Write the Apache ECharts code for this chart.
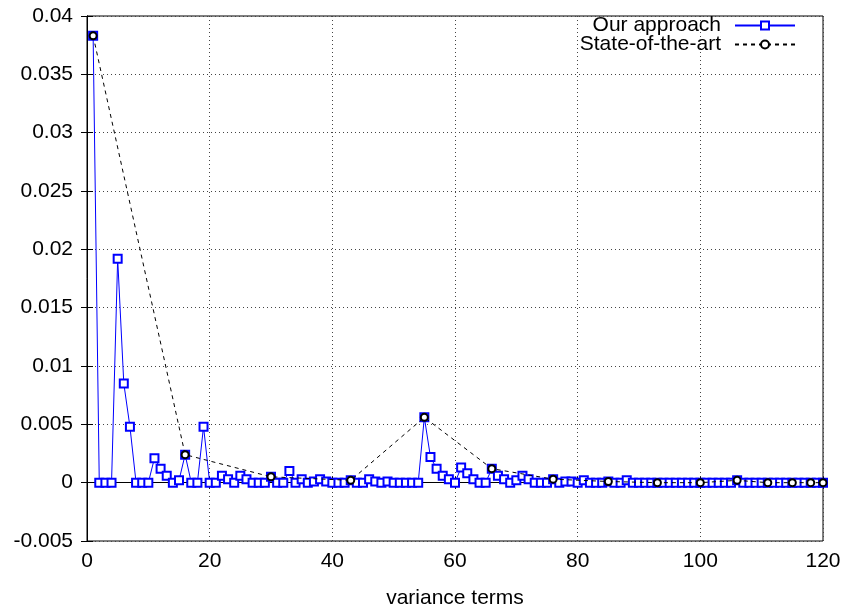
<!DOCTYPE html>
<html>
<head>
<meta charset="utf-8">
<script src="https://cdn.jsdelivr.net/npm/echarts@6/dist/echarts.min.js"></script>
<style>
html,body{margin:0;padding:0;background:#fff;}
#c{width:848px;height:613px;}
</style>
</head>
<body>
<div id="c"></div>
<script>
// Our approach: value for variance term 1..120
var ourValues = [
  0.0383, 0, 0, 0, 0.0192, 0.0085, 0.0048, 0, 0, 0,
  0.0021, 0.0012, 0.0006, 0, 0.0002, 0.0024, 0, 0, 0.0048, 0,
  0, 0.0006, 0.0003, 0, 0.0006, 0.0003, 0, 0, 0, 0.0005,
  0, 0, 0.0010, 0, 0.0003, 0, 0.0001, 0.0003, 0.0001, 0,
  0, 0, 0.0002, 0, 0, 0.0003, 0.0001, 0, 0.0001, 0,
  0, 0, 0, 0, 0.0056, 0.0022, 0.0012, 0.0006, 0.0003, 0,
  0.0013, 0.0008, 0.0003, 0, 0, 0.0012, 0.0006, 0.0003, 0, 0.0002,
  0.0006, 0.0003, 0, 0, 0, 0.0003, 0, 0.0001, 0.0001, 0,
  0.0002, 0, 0, 0, 0.0001, 0, 0, 0.0002, 0, 0,
  0, 0, 0, 0, 0, 0, 0, 0, 0, 0,
  0, 0, 0, 0, 0, 0.0002, 0, 0, 0, 0,
  0, 0, 0, 0, 0, 0, 0, 0, 0, 0
];
// State-of-the-art: sparse terms
var sotaTerms  = [1, 16, 30, 43, 55, 66, 76, 85, 93, 100, 106, 111, 115, 118, 120];
var sotaValues = [0.0383, 0.0024, 0.0005, 0.0002, 0.0056, 0.0012, 0.0003, 0.0001, 0, 0, 0.0002, 0, 0, 0, 0];
var xTicks = [0, 20, 40, 60, 80, 100, 120];
var yTicks = [-0.005, 0, 0.005, 0.01, 0.015, 0.02, 0.025, 0.03, 0.035, 0.04];

var ourData = ourValues.map(function (v, i) { return [i + 1, v]; });
var sotaData = sotaTerms.map(function (t, i) { return [t, sotaValues[i]]; });

var FONT = 'Liberation Sans, Arial, sans-serif';
var fmtY = function (v) { return String(parseFloat(v.toFixed(3))); };

var chart = echarts.init(document.getElementById('c'), null, {renderer: 'canvas'});
chart.setOption({
  animation: false,
  backgroundColor: '#fff',
  grid: {left: 87, right: 25, top: 16, bottom: 72, containLabel: false, outerBoundsMode: 'none',
         show: true, borderColor: '#000', borderWidth: 1},
  legend: [{
    data: ['Our approach'], right: 47, top: 10, orient: 'vertical', align: 'right',
    itemWidth: 60, itemHeight: 10, itemGap: 12,
    textStyle: {fontFamily: FONT, fontSize: 21, color: '#000', padding: [0, 9, 0, 0]}
  }, {
    data: ['State-of-the-art'], right: 47, top: 29, orient: 'vertical', align: 'right',
    itemWidth: 60, itemHeight: 10, itemGap: 12,
    textStyle: {fontFamily: FONT, fontSize: 21, color: '#000', padding: [0, 9, 0, 0]}
  }],
  xAxis: [{
    type: 'value', min: xTicks[0], max: xTicks[xTicks.length - 1], interval: 20,
    name: 'variance terms', nameLocation: 'middle', nameGap: 47,
    nameTextStyle: {fontFamily: FONT, fontSize: 21, color: '#000'},
    axisLine: {show: true, lineStyle: {color: '#000', width: 1}},
    axisTick: {show: true, inside: true, length: 6, lineStyle: {color: '#000'}},
    axisLabel: {fontFamily: FONT, fontSize: 21, color: '#000', margin: 10},
    splitLine: {show: true, lineStyle: {color: '#444', type: [1, 3], width: 1}}
  }, {
    type: 'value', position: 'top', min: 0, max: 120, interval: 20,
    axisLine: {show: true, lineStyle: {color: '#000'}},
    axisTick: {show: true, inside: true, length: 6, lineStyle: {color: '#000'}},
    axisLabel: {show: false}, splitLine: {show: false}
  }],
  yAxis: [{
    type: 'value', min: yTicks[0], max: yTicks[yTicks.length - 1], interval: 0.005,
    axisLine: {show: true, lineStyle: {color: '#000', width: 1}},
    axisTick: {show: true, inside: true, length: 6, lineStyle: {color: '#000'}},
    axisLabel: {fontFamily: FONT, fontSize: 21, color: '#000', margin: 14, formatter: fmtY},
    splitLine: {show: true, lineStyle: {color: '#444', type: [1, 3], width: 1}}
  }, {
    type: 'value', position: 'right', min: -0.005, max: 0.04, interval: 0.005,
    axisLine: {show: true, lineStyle: {color: '#000'}},
    axisTick: {show: true, inside: true, length: 6, lineStyle: {color: '#000'}},
    axisLabel: {show: false}, splitLine: {show: false}
  }],
  series: [{
    name: 'Our approach', type: 'line', data: ourData, xAxisIndex: 0, yAxisIndex: 0,
    symbol: 'emptyRect', symbolSize: 8, showAllSymbol: true,
    lineStyle: {color: '#0000ff', width: 1},
    itemStyle: {color: '#0000ff', borderColor: '#0000ff', borderWidth: 1},
    z: 2
  }, {
    name: 'State-of-the-art', type: 'line', data: sotaData, xAxisIndex: 0, yAxisIndex: 0,
    symbol: 'emptyCircle', symbolSize: 7, showAllSymbol: true,
    lineStyle: {color: '#000', width: 1, type: [4, 4]},
    itemStyle: {color: '#000', borderColor: '#000', borderWidth: 1.2},
    z: 3
  }]
});
</script>
</body>
</html>
